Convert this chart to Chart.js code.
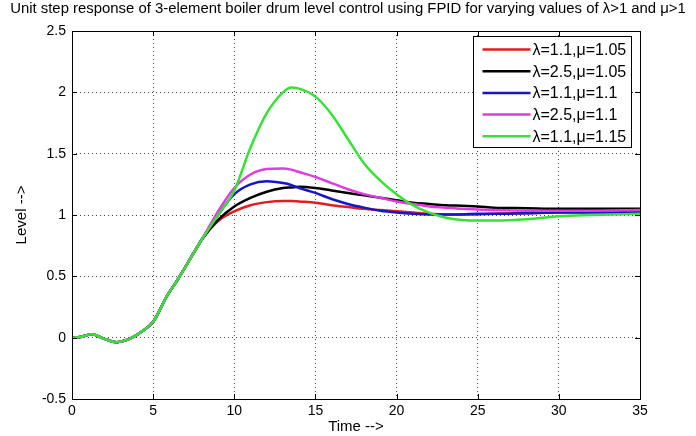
<!DOCTYPE html>
<html>
<head>
<meta charset="utf-8">
<script src="https://cdn.jsdelivr.net/npm/chart.js@4.4.1/dist/chart.umd.min.js"></script>
<style>
  html, body { margin: 0; padding: 0; background: #fff; }
  #wrap { width: 696px; height: 436px; }
</style>
</head>
<body>
<div id="wrap"><canvas id="step_response" width="696" height="436"></canvas></div>
<script>
// time samples (s) shared by every curve
const time = [0, 0.5, 1.2, 2, 2.75, 3.7, 4.3, 5, 5.9, 6.5, 7, 7.7, 8,
    9, 10, 11, 12, 13, 13.5, 14, 15, 16, 17, 18, 19, 20, 21, 22, 23, 24, 25, 26, 28, 30, 32, 35];

// the start of the response is the same for every tuning
const common = [0, 0.005, 0.028, -0.01, -0.037, 0, 0.05, 0.13, 0.35, 0.47, 0.58, 0.735, 0.8];

const red = common.concat([0.95, 1.03, 1.08, 1.105, 1.115, 1.115, 1.11, 1.1, 1.08, 1.065, 1.05, 1.04,
    1.03, 1.02, 1.01, 1.005, 1.005, 1.005, 1.01, 1.015, 1.02, 1.025, 1.03]);
const black = common.concat([0.96, 1.07, 1.14, 1.19, 1.22, 1.225, 1.23, 1.22, 1.2, 1.18, 1.16, 1.14,
    1.12, 1.1, 1.09, 1.08, 1.075, 1.07, 1.06, 1.055, 1.05, 1.05, 1.05]);
const blue = common.concat([1.0, 1.17, 1.25, 1.275, 1.26, 1.245, 1.22, 1.18, 1.13, 1.09, 1.06, 1.035,
    1.02, 1.01, 1.005, 1.005, 1.005, 1.01, 1.01, 1.015, 1.02, 1.02, 1.02]);
const magenta = common.concat([1.03, 1.22, 1.33, 1.375, 1.38, 1.37, 1.35, 1.31, 1.26, 1.21, 1.17, 1.14,
    1.11, 1.09, 1.07, 1.06, 1.05, 1.045, 1.04, 1.035, 1.035, 1.035, 1.04]);
const green = common.concat([1.0, 1.2, 1.55, 1.83, 2.0, 2.04, 2.03, 1.965, 1.82, 1.62, 1.42, 1.28,
    1.17, 1.08, 1.02, 0.98, 0.96, 0.955, 0.955, 0.965, 0.99, 1.0, 1.01]);

const labels = ['λ=1.1,μ=1.05', 'λ=2.5,μ=1.05', 'λ=1.1,μ=1.1', 'λ=2.5,μ=1.1', 'λ=1.1,μ=1.15'];
const series = [red, black, blue, magenta, green];
const colors = ['#e01e1e', '#000000', '#1616c8', '#e03ce0', '#38e038'];
const titleText = 'Unit step response of 3-element boiler drum level control using FPID for varying values of λ>1 and μ>1';

const FONT = 'Liberation Sans, Arial, sans-serif';

// box around the plot with inward ticks, legend and title, matlab style
const framePlugin = {
    id: 'frame',
    afterDraw(chart) {
        const { ctx, chartArea: a, scales } = chart;
        ctx.save();
        ctx.strokeStyle = '#000';
        ctx.lineWidth = 1;
        ctx.beginPath();
        scales.x.ticks.forEach((t) => {
            const px = Math.round(scales.x.getPixelForValue(t.value)) + 0.5;
            ctx.moveTo(px, a.bottom); ctx.lineTo(px, a.bottom - 5);
            ctx.moveTo(px, a.top); ctx.lineTo(px, a.top + 5);
        });
        scales.y.ticks.forEach((t) => {
            const py = Math.round(scales.y.getPixelForValue(t.value)) + 0.5;
            ctx.moveTo(a.left, py); ctx.lineTo(a.left + 5, py);
            ctx.moveTo(a.right, py); ctx.lineTo(a.right - 5, py);
        });
        ctx.stroke();
        ctx.strokeRect(Math.round(a.left) + 0.5, Math.round(a.top) + 0.5,
            Math.round(a.right - a.left), Math.round(a.bottom - a.top));

        // title centred on the figure
        ctx.fillStyle = '#000';
        ctx.font = '14.9px ' + FONT;
        ctx.textAlign = 'center';
        ctx.textBaseline = 'middle';
        ctx.fillText(titleText, chart.width / 2, 9);

        // legend inside the axes, top right
        const w = 158, rowH = 21.7, h = 111;
        const x0 = Math.round(a.right) - 9 - w + 0.5, y0 = Math.round(a.top) + 5 + 0.5;
        ctx.fillStyle = '#fff';
        ctx.fillRect(x0, y0, w, h);
        ctx.strokeRect(x0, y0, w, h);
        ctx.font = '16px ' + FONT;
        ctx.textAlign = 'left';
        chart.data.datasets.forEach((ds, i) => {
            const y = y0 + 13 + i * rowH;
            ctx.strokeStyle = ds.borderColor;
            ctx.lineWidth = 2.5;
            ctx.beginPath();
            ctx.moveTo(x0 + 9, y); ctx.lineTo(x0 + 57, y);
            ctx.stroke();
            ctx.fillStyle = '#000';
            ctx.fillText(ds.label, x0 + 59, y + 1);
        });
        ctx.restore();
    },
};

const plainTick = (v) => String(v);

const ctx = document.getElementById('step_response');
const myChart = new Chart(ctx, {
    type: 'line',
    data: {
        datasets: series.map((s, i) => {
            return {
                label: labels[i],
                data: time.map((t, j) => ({ x: t, y: s[j] })),
                borderColor: colors[i],
                borderWidth: 2.5,
                pointRadius: 0,
                cubicInterpolationMode: 'monotone',
                fill: false,
                order: series.length - i,
            };
        }),
    },
    options: {
        responsive: false,
        animation: false,
        layout: { padding: { left: 0, right: 56, top: 31, bottom: 0 } },
        plugins: {
            legend: { display: false },
            tooltip: { enabled: false },
        },
        scales: {
            x: {
                type: 'linear',
                min: 0,
                max: 35,
                ticks: { stepSize: 5, color: '#000', padding: 4, font: { family: FONT, size: 14 }, callback: plainTick },
                grid: { color: '#444', drawTicks: false, tickLength: 0 },
                border: { display: false, dash: [1, 3] },
                title: {
                    display: true,
                    text: 'Time -->',
                    color: '#000',
                    font: { family: FONT, size: 15 },
                    padding: { top: 3, bottom: 0 },
                },
                afterFit: (scale) => { scale.height = 37; },
            },
            y: {
                min: -0.5,
                max: 2.5,
                ticks: { stepSize: 0.5, color: '#000', padding: 6, font: { family: FONT, size: 14 }, callback: plainTick },
                grid: { color: '#444', drawTicks: false, tickLength: 0 },
                border: { display: false, dash: [1, 3] },
                title: {
                    display: true,
                    text: 'Level -->',
                    color: '#000',
                    font: { family: FONT, size: 15 },
                    padding: { top: 13, bottom: 0 },
                },
                afterFit: (scale) => { scale.width = 72; },
            },
        },
    },
    plugins: [framePlugin],
});
</script>
</body>
</html>
